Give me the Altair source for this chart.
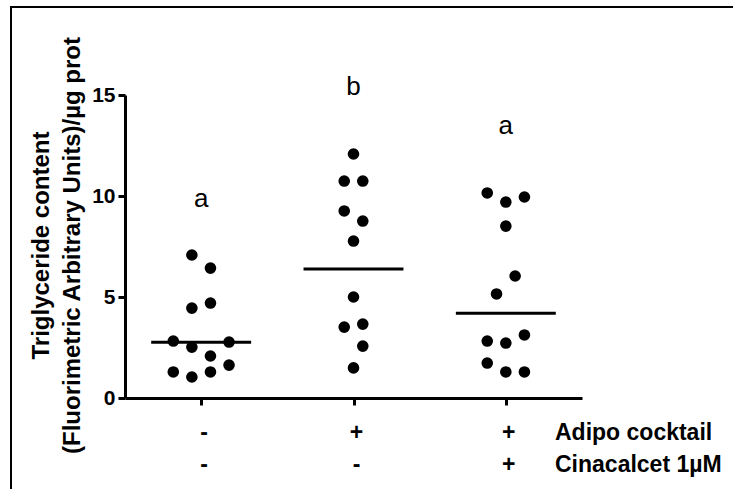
import altair as alt
import pandas as pd

# Treatment groups (left to right)
groups = ["Control", "Adipo cocktail", "Adipo cocktail + Cinacalcet"]

# Triglyceride content per well, each group with its column-scatter slot
ctrl_values = [7.08, 6.43, 4.45, 4.70, 2.82, 2.52, 2.77, 2.08, 1.63, 1.29, 1.04, 1.29]
ctrl_slots = [-1, 1, -1, 1, -3, -1, 3, 1, 3, -3, -1, 1]
adipo_values = [12.08, 10.74, 10.74, 9.26, 8.76, 7.77, 5.00, 3.51, 3.66, 2.57, 1.49]
adipo_slots = [0, -1, 1, -1, 1, 0, 0, -1, 1, 1, 0]
cina_values = [10.15, 9.70, 9.95, 8.51, 6.04, 5.15, 2.82, 2.72, 3.12, 1.73, 1.29, 1.29]
cina_slots = [-2, 0, 2, 0, 1, -1, -2, 0, 2, -2, 0, 2]

# Median of each group
medians = [2.76, 6.39, 4.20]

# Statistical grouping letters and the height they sit at
letters = ["a", "b", "a"]
letter_heights = [9.46, 15.0, 13.07]

# Treatment table under the axis
adipo_signs = ["-", "+", "+"]
cina_signs = ["-", "-", "+"]
row_labels = ["Adipo cocktail", "Cinacalcet 1\u00b5M"]

FONT = "Liberation Sans"
SLOT = 0.061          # half the spacing between scatter columns, in group units
HALF_LINE = 0.328     # half length of the median bar, in group units

rows = []
for gi, (vals, slots) in enumerate([(ctrl_values, ctrl_slots),
                                     (adipo_values, adipo_slots),
                                     (cina_values, cina_slots)]):
    for v, s in zip(vals, slots):
        rows.append({"group": groups[gi], "gi": gi, "slot": s, "value": v})
points = pd.DataFrame(rows)

summary = pd.DataFrame({
    "group": groups,
    "gi": list(range(len(groups))),
    "median": medians,
    "letter": letters,
    "letter_y": letter_heights,
    "adipo": adipo_signs,
    "cina": cina_signs,
})

x_scale = alt.Scale(domain=[-0.5, 2.5], nice=False, zero=False)
y_scale = alt.Scale(domain=[0, 15], nice=False, zero=True)

x_axis = alt.Axis(values=[0, 1, 2], labels=False, title=None, grid=False)
y_axis = alt.Axis(values=[0, 5, 10, 15], grid=False,
                  title=["Triglyceride content", "(Fluorimetric Arbitrary Units)/\u00b5g prot"],
                  titleAngle=-90, titleAlign="center", titleBaseline="top",
                  titleLineHeight=31, titleX=-96, titleY=150)


def xq(field):
    return alt.X(field, type="quantitative", scale=x_scale, axis=x_axis)


def yq(field):
    return alt.Y(field, type="quantitative", scale=y_scale, axis=y_axis)


dots = alt.Chart(points).mark_circle(size=135, opacity=1, color="black").transform_calculate(
    xpos=f"datum.gi + datum.slot * {SLOT}"
).encode(x=xq("xpos"), y=yq("value"))

median_bars = alt.Chart(summary).mark_rule(color="black", strokeWidth=3).transform_calculate(
    x1=f"datum.gi - {HALF_LINE}", x2=f"datum.gi + {HALF_LINE}"
).encode(x=xq("x1"), x2="x2:Q", y=yq("median"))

letter_text = alt.Chart(summary).mark_text(
    font=FONT, fontSize=26, baseline="alphabetic", color="black"
).encode(x=xq("gi"), y=yq("letter_y"), text="letter:N")

sign_style = dict(font=FONT, fontSize=23, fontWeight="bold", baseline="alphabetic", color="black")
adipo_row = alt.Chart(summary).mark_text(dx=3, **sign_style).encode(
    x=xq("gi"), y=alt.value(345), text="adipo:N")
cina_row = alt.Chart(summary).mark_text(dx=3, **sign_style).encode(
    x=xq("gi"), y=alt.value(377), text="cina:N")

label_df = pd.DataFrame({"label": row_labels, "row": [0, 1]})
row_text = alt.Chart(label_df).mark_text(align="left", **sign_style).transform_calculate(
    ypix="345 + datum.row * 32"
).encode(
    x=alt.value(430),
    y=alt.Y("ypix:Q", scale=None),
    text="label:N",
)

frame_data = alt.Data(values=[{"k": 0}])
frame_top = alt.Chart(frame_data).mark_rule(color="black", strokeWidth=2).encode(
    x=alt.value(-114), x2=alt.value(620), y=alt.value(-88))
frame_left = alt.Chart(frame_data).mark_rule(color="black", strokeWidth=2).encode(
    x=alt.value(-114), y=alt.value(-89), y2=alt.value(400))

chart = alt.layer(
    dots, median_bars, letter_text, adipo_row, cina_row, row_text, frame_top, frame_left
).properties(
    width=457, height=303,
    padding={"left": 125, "top": 95, "right": 151, "bottom": 91},
    autosize=alt.AutoSizeParams(type="none"),
    background="white",
).configure_view(
    stroke=None
).configure_axis(
    domainColor="black", domainWidth=3, domainOpacity=1,
    tickColor="black", tickWidth=3, tickSize=7, tickOpacity=1,
    labelFont=FONT, labelFontSize=21, labelFontWeight="bold",
    labelColor="black", labelOpacity=1, labelPadding=3,
    titleFont=FONT, titleFontSize=24, titleFontWeight="bold", titleColor="black",
)

chart.save("out.html", embed_options={"renderer": "svg", "actions": False})
